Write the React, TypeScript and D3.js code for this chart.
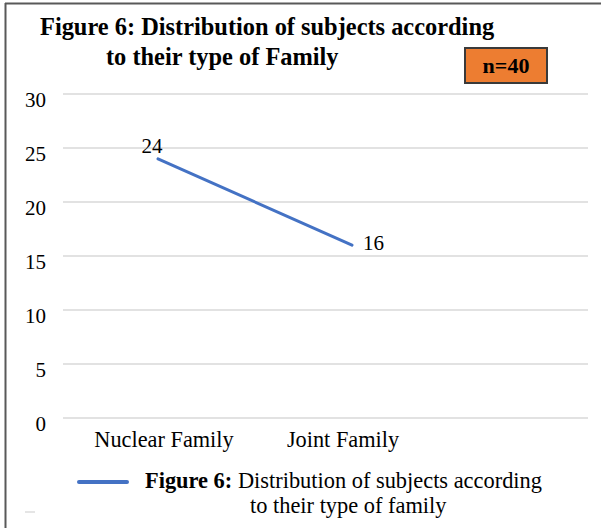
import React from "react";
import { scaleLinear, scalePoint, line } from "d3";

// chart values
const categories = ["Nuclear Family", "Joint Family"];
const counts = [24, 16];
const yTicks = [0, 5, 10, 15, 20, 25, 30];
const titleLines = ["Figure 6: Distribution of subjects according", "to their type of Family"];
const sampleLabel = "n=40";
const legendBold = "Figure 6: ";
const legendLines = ["Distribution of subjects according", "to their type of family"];

const W = 601;
const H = 528;
const serif = "'Liberation Serif', 'Times New Roman', serif";
const lineColor = "#4472C4";

export default function App() {
  const plot = { left: 63, right: 588, top: 94, bottom: 418 };
  const y = scaleLinear().domain([0, 30]).range([plot.bottom, plot.top]);
  const x = scalePoint<string>().domain(categories).range([61, 449]).padding(0.5);

  const pts = categories.map((c, i) => ({ c, v: counts[i] }));
  const path = line<{ c: string; v: number }>()
    .x((d) => x(d.c) as number)
    .y((d) => y(d.v))(pts);

  return (
    <svg width={W} height={H} style={{ position: "absolute", left: 0, top: 0, background: "#fff" }}
      fontFamily={serif}>
      <rect x={0} y={0} width={W} height={H} fill="#fff" />
      {/* frame */}
      <line x1={5} y1={3.5} x2={W} y2={3.5} stroke="#595959" strokeWidth={2} />
      <line x1={5.5} y1={3} x2={5.5} y2={H} stroke="#595959" strokeWidth={2} />

      {/* title */}
      <text x={40} y={35} fontSize={24.4} fontWeight="bold" fill="#000">{titleLines[0]}</text>
      <text x={106} y={65} fontSize={24.4} fontWeight="bold" fill="#000">{titleLines[1]}</text>

      {/* n box */}
      <rect x={465} y={48} width={82} height={35} fill="#ED7D31" stroke="#3a3a3a" strokeWidth={2} />
      <text x={506} y={73} fontSize={22} fontWeight="bold" textAnchor="middle" fill="#000">{sampleLabel}</text>

      {/* grid + y ticks */}
      {yTicks.map((t) => (
        <g key={t}>
          <line x1={plot.left} x2={plot.right} y1={y(t)} y2={y(t)} stroke="#d9d9d9" strokeWidth={1.5} />
          <text x={46} y={y(t) + 12.5} fontSize={21} textAnchor="end" fill="#000">{t}</text>
        </g>
      ))}

      {/* series */}
      <path d={path ?? ""} fill="none" stroke={lineColor} strokeWidth={3} strokeLinecap="round" />
      {pts.map((d, i) => (
        <text key={d.c}
          x={(x(d.c) as number) + (i === 0 ? -6 : 11)}
          y={y(d.v) + (i === 0 ? -6 : 5)}
          textAnchor={i === 0 ? "middle" : "start"}
          fontSize={21} fill="#000">{d.v}</text>
      ))}

      {/* category labels (Excel centres them slightly off the points) */}
      {categories.map((c, i) => (
        <text key={c} x={(x(c) as number) + (i === 0 ? 6 : -9)} y={447} fontSize={22.3}
          textAnchor="middle" fill="#000">{c}</text>
      ))}

      {/* legend */}
      <line x1={79} x2={127} y1={482} y2={482} stroke={lineColor} strokeWidth={4} strokeLinecap="round" />
      <text x={145} y={488} fontSize={22.4} fill="#000">
        <tspan fontWeight="bold">{legendBold}</tspan>
        <tspan>{legendLines[0]}</tspan>
      </text>
      <text x={250} y={513} fontSize={22.4} fill="#000">{legendLines[1]}</text>

      <line x1={25} x2={35} y1={512} y2={512} stroke="#dddddd" strokeWidth={1.5} />
    </svg>
  );
}
